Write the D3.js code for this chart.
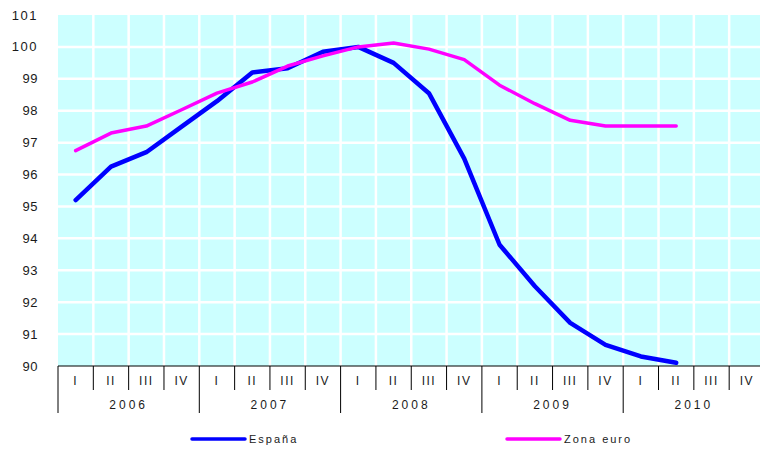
<!DOCTYPE html>
<html>
<head>
<meta charset="utf-8">
<script src="https://cdn.jsdelivr.net/npm/d3@7"></script>
<style>
  body { margin: 0; background: #fff; }
  svg text { font-family: "Liberation Sans", Arial, sans-serif; fill: #1a1a1a; }
</style>
</head>
<body>
<svg id="chart" width="760" height="449"></svg>
<script>
const years = ["2006", "2007", "2008", "2009", "2010"];
const quarters = ["I", "II", "III", "IV"];
const yTicks = [90, 91, 92, 93, 94, 95, 96, 97, 98, 99, 100, 101];

// valores por trimestre (2006 I ... 2010 II)
const espana = [95.2, 96.25, 96.7, 97.5, 98.3, 99.2, 99.33, 99.85, 100.0, 99.5, 98.55, 96.5, 93.8, 92.5, 91.35, 90.66, 90.3, 90.1];
const zonaEuro = [96.75, 97.3, 97.52, 98.03, 98.55, 98.9, 99.4, 99.72, 100.0, 100.12, 99.93, 99.6, 98.8, 98.22, 97.7, 97.52, 97.52, 97.52];

const svg = d3.select('#chart');
const margin = { top: 15, left: 58, bottom: 366 };
const plotRight = 764.5;

const periods = [];
years.forEach(y => quarters.forEach(q => periods.push(y + '-' + q)));

const x = d3.scaleBand()
  .domain(periods)
  .range([margin.left, plotRight])
  .padding(0);

const y = d3.scaleLinear()
  .domain([90, 101])
  .range([margin.bottom, margin.top]);

// fondo
svg.append('rect')
  .attr('x', margin.left)
  .attr('y', margin.top)
  .attr('width', plotRight - margin.left)
  .attr('height', margin.bottom - margin.top)
  .attr('fill', '#ccffff');

// rejilla
svg.append('g')
  .selectAll('line')
  .data(yTicks.filter(d => d > 90 && d < 101))
  .join('line')
  .attr('x1', margin.left)
  .attr('x2', plotRight)
  .attr('y1', d => y(d))
  .attr('y2', d => y(d))
  .attr('stroke', '#fff')
  .attr('stroke-width', 2.5);

svg.append('g')
  .selectAll('line')
  .data(periods.slice(1))
  .join('line')
  .attr('x1', d => x(d))
  .attr('x2', d => x(d))
  .attr('y1', margin.top)
  .attr('y2', margin.bottom)
  .attr('stroke', '#fff')
  .attr('stroke-width', 2.5);

// eje y
svg.append('g')
  .selectAll('text')
  .data(yTicks)
  .join('text')
  .attr('x', 38)
  .attr('y', d => y(d) + 4.5)
  .attr('text-anchor', 'end')
  .attr('font-size', 13)
  .attr('letter-spacing', d => d > 99 ? 1.5 : 0.5)
  .text(d => d);

// eje x
const axis = svg.append('g');
axis.append('line')
  .attr('x1', margin.left).attr('x2', plotRight)
  .attr('y1', margin.bottom).attr('y2', margin.bottom)
  .attr('stroke', '#000').attr('stroke-width', 1);

axis.selectAll('.qtick')
  .data(periods.concat(['end']))
  .join('line')
  .attr('x1', (d, i) => i < periods.length ? x(d) : plotRight)
  .attr('x2', (d, i) => i < periods.length ? x(d) : plotRight)
  .attr('y1', margin.bottom)
  .attr('y2', (d, i) => i % 4 === 0 ? 413 : 390)
  .attr('stroke', '#000')
  .attr('stroke-width', 1);

axis.selectAll('.qlabel')
  .data(periods)
  .join('text')
  .attr('x', d => x(d) + x.bandwidth() / 2)
  .attr('y', 385)
  .attr('text-anchor', 'middle')
  .attr('font-size', 12)
  .attr('letter-spacing', 1.5)
  .text(d => d.split('-')[1]);

axis.selectAll('.ylabel')
  .data(years)
  .join('text')
  .attr('x', d => x(d + '-I') + 2 * x.bandwidth())
  .attr('y', 409)
  .attr('text-anchor', 'middle')
  .attr('font-size', 12)
  .attr('letter-spacing', 3)
  .text(d => d);

// lineas
const line = d3.line()
  .x((d, i) => x(periods[i]) + x.bandwidth() / 2)
  .y(d => y(d));

svg.append('path')
  .datum(espana)
  .attr('d', line)
  .attr('fill', 'none')
  .attr('stroke', '#0000ff')
  .attr('stroke-width', 4.5)
  .attr('stroke-linejoin', 'round')
  .attr('stroke-linecap', 'round');

svg.append('path')
  .datum(zonaEuro)
  .attr('d', line)
  .attr('fill', 'none')
  .attr('stroke', '#ff00ff')
  .attr('stroke-width', 3.5)
  .attr('stroke-linejoin', 'round')
  .attr('stroke-linecap', 'round');

// leyenda
const legend = [
  { name: 'España', color: '#0000ff', x: 192 },
  { name: 'Zona euro', color: '#ff00ff', x: 507 }
];
const lg = svg.append('g').selectAll('g').data(legend).join('g');
lg.append('line')
  .attr('x1', d => d.x).attr('x2', d => d.x + 53)
  .attr('y1', 439).attr('y2', 439)
  .attr('stroke', d => d.color)
  .attr('stroke-width', 3.5)
  .attr('stroke-linecap', 'round');
lg.append('text')
  .attr('x', d => d.x + 57)
  .attr('y', 443)
  .attr('font-size', 11)
  .attr('letter-spacing', 2)
  .text(d => d.name);
</script>
</body>
</html>
